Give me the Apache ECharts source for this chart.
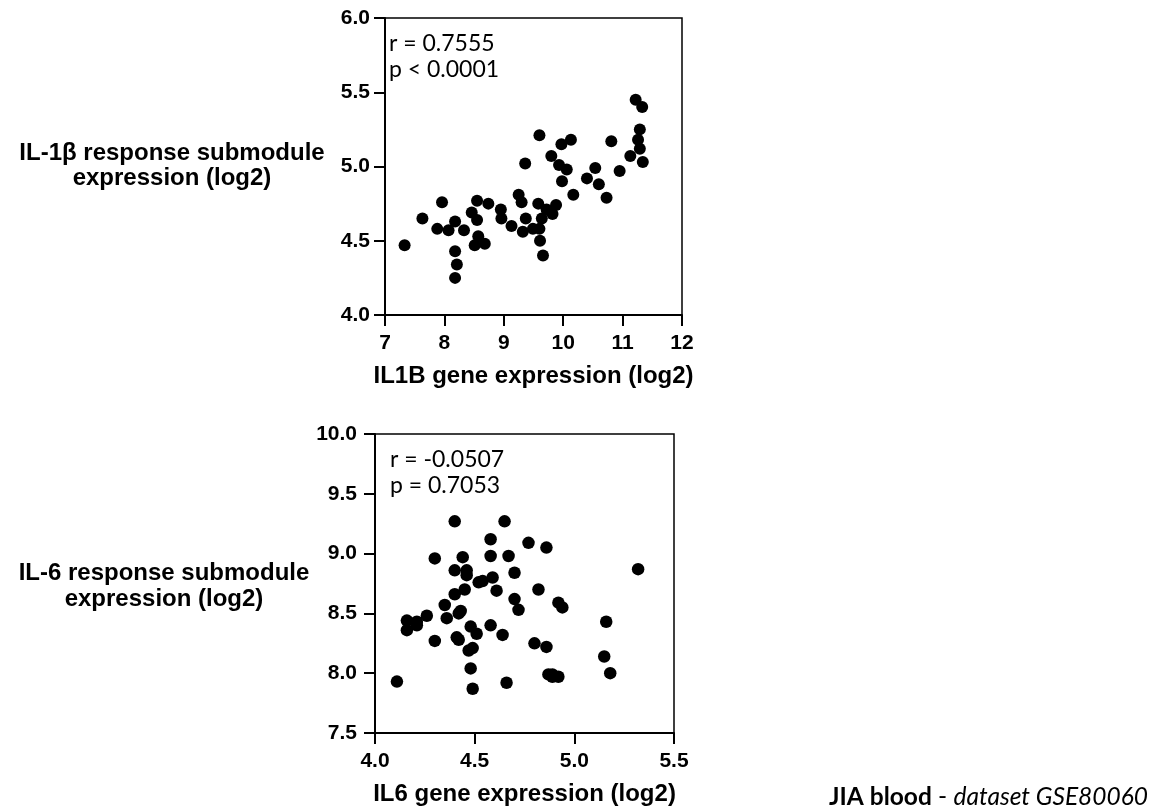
<!DOCTYPE html>
<html>
<head>
<meta charset="utf-8">
<script src="https://cdn.jsdelivr.net/npm/echarts@6/dist/echarts.min.js"></script>
<style>
html,body{margin:0;padding:0;background:#fff;}
#chart{width:1157px;height:811px;}
</style>
</head>
<body>
<div id="chart"></div>
<script>
// ---- Data ----
var il1bX = [7.33,7.63,7.96,7.88,8.07,8.18,8.33,8.18,8.21,8.18,8.46,8.55,8.55,8.74,8.57,8.51,8.68,8.95,8.96,9.13,9.25,9.30,9.37,9.32,9.36,9.60,9.58,9.49,9.60,9.61,9.66,9.64,9.72,9.82,9.88,9.80,9.93,10.06,9.98,9.97,10.13,10.17,10.40,10.54,10.60,10.73,10.81,10.95,11.13,11.22,11.33,11.29,11.26,11.29,11.34];
var il1bY = [4.47,4.65,4.76,4.58,4.57,4.63,4.57,4.43,4.34,4.25,4.69,4.77,4.64,4.75,4.53,4.47,4.48,4.71,4.65,4.60,4.81,4.76,4.65,4.56,5.02,5.21,4.75,4.58,4.58,4.50,4.40,4.65,4.71,4.68,4.74,5.07,5.01,4.98,4.90,5.15,5.18,4.81,4.92,4.99,4.88,4.79,5.17,4.97,5.07,5.45,5.40,5.25,5.18,5.12,5.03];
var il6X = [4.11,4.16,4.16,4.21,4.21,4.26,4.30,4.30,4.35,4.36,4.40,4.40,4.40,4.41,4.42,4.42,4.43,4.44,4.45,4.46,4.46,4.48,4.49,4.47,4.51,4.48,4.49,4.52,4.54,4.58,4.58,4.59,4.61,4.58,4.64,4.65,4.67,4.70,4.70,4.72,4.66,4.77,4.86,4.82,4.80,4.86,4.87,4.89,4.92,4.89,4.92,4.94,5.16,5.15,5.18,5.32];
var il6Y = [7.93,8.44,8.36,8.43,8.40,8.48,8.27,8.96,8.57,8.46,9.27,8.86,8.66,8.30,8.28,8.50,8.52,8.97,8.70,8.86,8.82,8.39,8.21,8.19,8.33,8.04,7.87,8.76,8.77,9.12,8.98,8.80,8.69,8.40,8.32,9.27,8.98,8.84,8.62,8.53,7.92,9.09,9.05,8.70,8.25,8.22,7.99,7.97,7.97,7.99,8.59,8.55,8.43,8.14,8.00,8.87];

var topXTitle = 'IL1B gene expression (log2)';
var topYTitle = 'IL-1\u03b2 response submodule\nexpression (log2)';
var botXTitle = 'IL6 gene expression (log2)';
var botYTitle = 'IL-6 response submodule\nexpression (log2)';
var topStats = 'r = 0.7555\np < 0.0001';
var botStats = 'r = -0.0507\np = 0.7053';

function zip(a, b) { return a.map(function (v, i) { return [v, b[i]]; }); }

var tickFont = {color: '#000', fontFamily: 'Liberation Sans, Arial, sans-serif', fontWeight: 'bold', fontSize: 21};
var nameFont = {color: '#000', fontFamily: 'Liberation Sans, Arial, sans-serif', fontWeight: 'bold', fontSize: 24};
var axLine = {show: true, onZero: false, lineStyle: {color: '#000', width: 2}};
var axTick = {show: true, inside: false, length: 11, lineStyle: {color: '#000', width: 2}};

function xAxis(gi, min, max, interval, name, dec) {
  return {
    type: 'value', gridIndex: gi, min: min, max: max, interval: interval,
    name: name, nameLocation: 'middle', nameGap: 49, nameTextStyle: nameFont,
    axisLine: axLine, axisTick: axTick, splitLine: {show: false},
    axisLabel: Object.assign({margin: 18, formatter: function (v) { return dec ? v.toFixed(dec) : String(v); }}, tickFont)
  };
}
function yAxis(gi, min, max, interval, margin) {
  return {
    type: 'value', gridIndex: gi, min: min, max: max, interval: interval,
    axisLine: axLine, axisTick: axTick, splitLine: {show: false},
    axisLabel: Object.assign({margin: margin, formatter: function (v) { return v.toFixed(1); }}, tickFont)
  };
}

var chart = echarts.init(document.getElementById('chart'), null, {renderer: 'canvas'});
chart.setOption({
  backgroundColor: '#fff',
  animation: false,
  grid: [
    {left: 385, top: 18, width: 297, height: 297, show: true, borderColor: '#000', borderWidth: 1.5, backgroundColor: 'transparent'},
    {left: 375, top: 434, width: 299, height: 299, show: true, borderColor: '#000', borderWidth: 1.5, backgroundColor: 'transparent'}
  ],
  xAxis: [xAxis(0, 7, 12, 1, topXTitle, 0), xAxis(1, 4, 5.5, 0.5, botXTitle, 1)],
  yAxis: [yAxis(0, 4, 6, 0.5, 15), yAxis(1, 7.5, 10, 0.5, 18)],
  series: [
    {type: 'scatter', xAxisIndex: 0, yAxisIndex: 0, data: zip(il1bX, il1bY), symbol: 'circle', symbolSize: 12, itemStyle: {color: '#000', opacity: 1}},
    {type: 'scatter', xAxisIndex: 1, yAxisIndex: 1, data: zip(il6X, il6Y), symbol: 'circle', symbolSize: 12.5, itemStyle: {color: '#000', opacity: 1}}
  ],
  graphic: [
    {type: 'text', x: 172, y: 141, style: {text: topYTitle, align: 'center', verticalAlign: 'top', fill: '#000', font: 'bold 24px "Liberation Sans", Arial, sans-serif', lineHeight: 25}},
    {type: 'text', x: 164, y: 560, style: {text: botYTitle, align: 'center', verticalAlign: 'top', fill: '#000', font: 'bold 24px "Liberation Sans", Arial, sans-serif', lineHeight: 26}},
    {type: 'text', x: 389, y: 31, style: {text: topStats, align: 'left', verticalAlign: 'top', fill: '#000', font: '23px Lato, "Open Sans", sans-serif', lineHeight: 26}},
    {type: 'text', x: 390, y: 447, style: {text: botStats, align: 'left', verticalAlign: 'top', fill: '#000', font: '23px Lato, "Open Sans", sans-serif', lineHeight: 26}},
    {type: 'text', x: 1148, y: 797, style: {
      text: '{b|JIA blood}{n| - }{i|dataset GSE80060}', align: 'right', verticalAlign: 'middle',
      rich: {
        b: {fontFamily: 'Lato, "Open Sans", sans-serif', fontWeight: 'bold', fontSize: 24.5, fill: '#000', color: '#000'},
        n: {fontFamily: 'Lato, "Open Sans", sans-serif', fontSize: 24.5, fill: '#000', color: '#000'},
        i: {fontFamily: 'Lato, "Open Sans", sans-serif', fontStyle: 'italic', fontSize: 24.5, fill: '#000', color: '#000'}
      }
    }}
  ]
});
</script>
</body>
</html>
